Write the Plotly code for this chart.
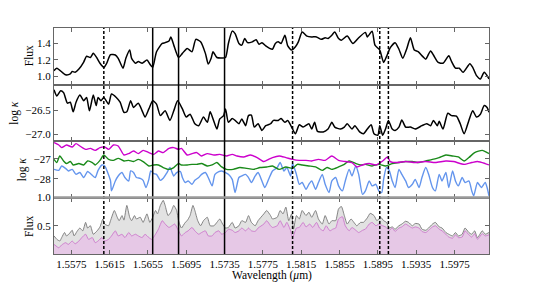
import plotly.graph_objects as go
from plotly.subplots import make_subplots

# ---------------- data ----------------
flux_wl = [1.5557,1.5560,1.5569,1.5574,1.5576,1.5579,1.5583,1.5588,1.5591,1.5595,1.5598,1.5602,1.5605,1.5609,1.5612,1.5616,
           1.5621,1.5624,1.5629,1.5632,1.5636,1.5638,1.5642,1.5645,1.5649,1.5654,1.5657,1.5660,1.5664,1.5670,1.5673,1.5677,
           1.5679,1.5682,1.5687,1.5691,1.5696,1.5701,1.5705,1.5710,1.5715,1.5718,1.5721,1.5723,1.5727,1.5732,1.5736,1.5739,
           1.5743,1.5746,1.5750,1.5753,1.5756,1.5759,1.5764,1.5768,1.5771,1.5774,1.5778,1.5782,1.5785,1.5788,1.5791,1.5794,
           1.5798,1.5801,1.5805,1.5809,1.5812,1.5816,1.5821,1.5826,1.5831,1.5836,1.5840,1.5843,1.5847,1.5850,1.5854,1.5857,
           1.5863,1.5869,1.5875,1.5882,1.5884,1.5889,1.5892,1.5897,1.5901,1.5904,1.5908,1.5913,1.5917,1.5921,1.5925,1.5929,
           1.5933,1.5937,1.5942,1.5945,1.5950,1.5953,1.5958,1.5963,1.5969,1.5972,1.5976,1.5980,1.5984,1.5991,1.5994,1.5998,
           1.6002,1.6006,1.6011]
flux = [1.07,1.10,1.02,1.03,1.06,1.05,1.09,1.175,1.245,1.23,1.28,1.22,1.16,1.11,1.16,1.265,
        1.26,1.22,1.10,1.22,1.32,1.22,1.16,1.18,1.16,1.20,1.15,1.11,1.30,1.40,1.41,1.43,
        1.48,1.38,1.23,1.28,1.34,1.30,1.45,1.42,1.28,1.15,1.22,1.30,1.23,1.225,1.23,1.40,
        1.55,1.52,1.40,1.38,1.46,1.41,1.42,1.445,1.39,1.41,1.37,1.34,1.33,1.40,1.42,1.40,
        1.50,1.37,1.32,1.36,1.42,1.54,1.49,1.48,1.48,1.45,1.47,1.46,1.50,1.54,1.46,1.44,
        1.49,1.40,1.47,1.535,1.48,1.55,1.38,1.32,1.17,1.24,1.35,1.41,1.33,1.22,1.33,1.47,
        1.32,1.30,1.24,1.21,1.31,1.26,1.17,1.16,1.25,1.18,1.10,1.10,1.05,1.155,1.11,1.01,
        0.97,1.05,0.97]

kappa_wl = [1.5557,1.5560,1.5564,1.5567,1.5571,1.5574,1.5577,1.5580,1.5584,1.5588,1.5591,1.5594,1.5598,1.5601,1.5603,1.5606,
            1.5609,1.5614,1.5617,1.5622,1.5626,1.5630,1.5633,1.5637,1.5640,1.5645,1.5649,1.5652,1.5656,1.5660,1.5664,1.5668,
            1.5673,1.5678,1.5682,1.5686,1.5691,1.5695,1.5699,1.5704,1.5708,1.5713,1.5717,1.5720,1.5723,1.5727,1.5730,1.5734,
            1.5736,1.5739,1.5743,1.5746,1.5750,1.5753,1.5757,1.5760,1.5763,1.5766,1.5770,1.5774,1.5778,1.5783,1.5786,1.5791,
            1.5794,1.5798,1.5801,1.5805,1.5809,1.5813,1.5817,1.5823,1.5826,1.5829,1.5832,1.5838,1.5843,1.5847,1.5850,1.5856,
            1.5860,1.5863,1.5868,1.5871,1.5876,1.5880,1.5884,1.5888,1.5891,1.5895,1.5897,1.5900,1.5903,1.5906,1.5910,1.5913,
            1.5917,1.5920,1.5924,1.5929,1.5934,1.5941,1.5946,1.5950,1.5953,1.5957,1.5959,1.5963,1.5968,1.5972,1.5977,1.5981,
            1.5985,1.5990,1.5994,1.5998,1.6002,1.6006,1.6009,1.6011]
log_kappa = [-26.07,-26.20,-26.09,-26.13,-26.35,-26.33,-26.53,-26.33,-26.18,-26.30,-26.23,-26.51,-26.18,-26.40,-26.23,-26.30,
             -26.23,-26.37,-26.16,-26.23,-26.33,-26.54,-26.53,-26.30,-26.44,-26.35,-26.51,-26.64,-26.47,-26.30,-26.37,-26.61,
             -26.51,-26.71,-26.51,-26.30,-26.47,-26.64,-26.58,-26.78,-26.82,-26.64,-26.75,-26.53,-26.68,-26.89,-26.68,-26.61,
             -26.47,-26.75,-26.67,-26.71,-26.78,-26.68,-26.82,-26.61,-26.60,-26.85,-26.78,-26.92,-26.82,-26.78,-26.71,-26.71,
             -26.67,-26.75,-26.71,-26.85,-26.99,-26.80,-26.85,-26.78,-26.89,-26.75,-26.94,-26.95,-26.89,-26.75,-26.85,-26.89,
             -26.85,-26.78,-26.89,-26.82,-26.95,-26.99,-26.89,-26.80,-26.99,-27.02,-26.82,-27.02,-26.89,-26.71,-26.89,-26.92,
             -26.85,-26.70,-26.85,-26.85,-26.89,-26.82,-26.78,-26.82,-26.71,-26.82,-26.73,-26.89,-26.56,-26.61,-26.62,-26.78,
             -26.99,-26.71,-26.51,-26.64,-26.58,-26.40,-26.44,-26.54]

# panel 3: three opacity sources
mag_wl = [1.5557,1.5562,1.5565,1.5570,1.5576,1.5580,1.5584,1.5590,1.5595,1.5600,1.5605,1.5610,1.5614,1.5619,1.5624,1.5630,
          1.5635,1.5640,1.5645,1.5650,1.5656,1.5661,1.5666,1.5671,1.5677,1.5682,1.5687,1.5690,1.5696,1.5701,1.5706,1.5711,
          1.5717,1.5724,1.5730,1.5737,1.5743,1.5748,1.5755,1.5762,1.5769,1.5776,1.5781,1.5785,1.5792,1.5799,1.5806,1.5813,
          1.5820,1.5826,1.5833,1.5840,1.5847,1.5854,1.5861,1.5868,1.5873,1.5879,1.5886,1.5893,1.5900,1.5905,1.5908,1.5915,
          1.5924,1.5934,1.5945,1.5955,1.5966,1.5974,1.5985,1.5993,1.5999,1.6007,1.6011]
mag_k = [-26.18,-26.30,-26.43,-26.30,-26.40,-26.23,-26.35,-26.52,-26.47,-26.57,-26.43,-26.40,-26.52,-26.30,-26.35,-26.80,
         -26.73,-26.60,-26.73,-26.57,-26.68,-26.77,-26.60,-26.68,-26.47,-26.43,-26.52,-26.47,-26.80,-26.73,-26.68,-26.85,
         -26.73,-26.80,-26.77,-26.85,-26.77,-26.85,-26.90,-26.80,-26.93,-27.13,-27.02,-26.93,-26.85,-26.93,-27.02,-27.07,
         -27.07,-27.10,-27.02,-27.07,-26.85,-27.07,-27.13,-27.18,-27.40,-27.30,-27.23,-27.30,-27.10,-26.90,-27.13,-27.18,
         -27.13,-27.18,-27.13,-27.18,-27.10,-27.13,-27.27,-27.18,-27.13,-27.23,-27.30]

grn_wl = [1.5557,1.5560,1.5563,1.5567,1.5570,1.5574,1.5577,1.5583,1.5588,1.5592,1.5597,1.5600,1.5605,1.5609,1.5614,1.5619,
          1.5624,1.5630,1.5635,1.5640,1.5645,1.5650,1.5656,1.5661,1.5666,1.5671,1.5677,1.5682,1.5687,1.5690,1.5696,1.5701,
          1.5706,1.5711,1.5717,1.5722,1.5727,1.5732,1.5737,1.5744,1.5751,1.5758,1.5765,1.5772,1.5779,1.5785,1.5792,1.5799,
          1.5806,1.5811,1.5816,1.5823,1.5830,1.5837,1.5842,1.5847,1.5854,1.5860,1.5865,1.5872,1.5877,1.5882,1.5889,1.5896,
          1.5903,1.5910,1.5917,1.5924,1.5931,1.5938,1.5945,1.5952,1.5959,1.5966,1.5973,1.5979,1.5985,1.5990,1.5996,1.6004,
          1.6009,1.6011]
grn_k = [-27.02,-27.18,-26.85,-27.10,-27.23,-27.13,-27.30,-27.23,-27.30,-27.10,-27.18,-27.30,-27.07,-26.80,-27.02,-27.07,
         -26.97,-27.10,-27.07,-27.13,-27.02,-27.13,-27.35,-27.30,-27.30,-27.43,-27.52,-27.43,-27.23,-27.30,-27.30,-27.27,
         -27.27,-27.23,-27.35,-27.30,-27.18,-27.40,-27.52,-27.52,-27.43,-27.47,-27.52,-27.43,-27.40,-27.35,-27.52,-27.40,
         -27.47,-27.27,-27.30,-27.35,-27.40,-27.57,-27.43,-27.52,-27.40,-27.27,-27.10,-27.23,-27.30,-27.27,-27.35,-27.27,
         -27.35,-27.23,-27.18,-27.13,-27.13,-27.18,-27.10,-27.02,-26.93,-26.80,-26.85,-26.90,-27.10,-26.93,-26.68,-26.57,
         -26.68,-26.73]

blu_wl = [1.5557,1.5562,1.5565,1.5569,1.5572,1.5576,1.5580,1.5584,1.5588,1.5592,1.5595,1.5600,1.5603,1.5607,1.5610,1.5613,
          1.5616,1.5617,1.5621,1.5624,1.5628,1.5631,1.5635,1.5637,1.5640,1.5643,1.5647,1.5650,1.5653,1.5656,1.5658,1.5661,
          1.5664,1.5668,1.5671,1.5675,1.5678,1.5682,1.5685,1.5689,1.5691,1.5694,1.5697,1.5701,1.5704,1.5708,1.5711,1.5715,
          1.5718,1.5722,1.5725,1.5729,1.5732,1.5736,1.5739,1.5743,1.5746,1.5750,1.5753,1.5757,1.5760,1.5763,1.5767,1.5770,
          1.5774,1.5777,1.5781,1.5785,1.5790,1.5793,1.5797,1.5800,1.5804,1.5806,1.5810,1.5813,1.5816,1.5820,1.5823,1.5826,
          1.5830,1.5833,1.5837,1.5840,1.5844,1.5847,1.5851,1.5854,1.5858,1.5861,1.5865,1.5868,1.5872,1.5875,1.5879,1.5882,
          1.5886,1.5889,1.5893,1.5896,1.5899,1.5901,1.5904,1.5907,1.5910,1.5913,1.5917,1.5920,1.5924,1.5927,1.5931,1.5934,
          1.5938,1.5941,1.5945,1.5948,1.5952,1.5955,1.5959,1.5962,1.5966,1.5969,1.5973,1.5976,1.5979,1.5983,1.5986,1.5990,
          1.5993,1.5995,1.5999,1.6003,1.6007,1.6009,1.6011]
blu_k = [-27.52,-27.57,-27.35,-27.47,-27.60,-27.52,-27.77,-27.68,-27.93,-27.63,-27.73,-27.93,-27.57,-27.30,-27.35,-27.68,
         -28.10,-28.60,-28.10,-27.85,-27.68,-27.93,-28.10,-27.60,-27.68,-27.93,-27.97,-28.07,-28.43,-28.02,-27.60,-27.73,
         -27.77,-28.07,-27.97,-27.68,-27.43,-27.85,-27.68,-27.63,-27.93,-28.18,-28.10,-28.27,-28.07,-27.93,-27.77,-27.68,
         -27.93,-28.35,-27.77,-27.63,-27.60,-27.68,-27.77,-28.02,-28.68,-27.93,-27.85,-27.77,-27.93,-28.18,-27.85,-27.68,
         -28.10,-28.43,-28.02,-27.60,-27.43,-27.18,-27.60,-27.43,-27.85,-27.23,-27.77,-28.27,-28.18,-28.52,-28.27,-28.10,
         -28.52,-28.18,-27.77,-28.27,-28.68,-28.10,-27.93,-28.35,-28.60,-28.10,-27.52,-27.85,-27.35,-27.77,-28.77,-28.60,
         -28.10,-28.35,-28.27,-28.60,-28.68,-28.02,-27.43,-27.60,-28.10,-28.43,-27.52,-27.77,-28.10,-28.43,-28.27,-28.02,
         -28.43,-27.93,-27.43,-27.77,-28.43,-28.60,-27.77,-28.10,-27.68,-28.43,-27.60,-28.10,-28.35,-27.93,-28.18,-28.10,
         -28.60,-28.85,-28.18,-28.43,-28.18,-28.43,-28.85]

# panel 4: two flux curves
gry_wl = [1.5557,1.5560,1.5563,1.5565,1.5568,1.5570,1.5573,1.5576,1.5578,1.5581,1.5584,1.5587,1.5590,1.5592,1.5595,1.5598,
          1.5602,1.5605,1.5608,1.5610,1.5614,1.5616,1.5620,1.5623,1.5625,1.5628,1.5630,1.5633,1.5636,1.5638,1.5641,1.5643,
          1.5647,1.5650,1.5654,1.5657,1.5660,1.5663,1.5665,1.5668,1.5671,1.5673,1.5676,1.5679,1.5682,1.5685,1.5687,1.5690,
          1.5694,1.5696,1.5699,1.5702,1.5704,1.5707,1.5710,1.5713,1.5717,1.5720,1.5724,1.5727,1.5730,1.5733,1.5736,1.5739,
          1.5743,1.5746,1.5750,1.5753,1.5757,1.5760,1.5763,1.5767,1.5770,1.5776,1.5779,1.5783,1.5785,1.5790,1.5793,1.5796,
          1.5799,1.5802,1.5805,1.5807,1.5810,1.5813,1.5816,1.5820,1.5823,1.5826,1.5830,1.5833,1.5837,1.5840,1.5844,1.5847,
          1.5851,1.5854,1.5857,1.5860,1.5863,1.5867,1.5870,1.5873,1.5877,1.5880,1.5884,1.5887,1.5891,1.5894,1.5898,1.5901,
          1.5904,1.5907,1.5910,1.5913,1.5917,1.5920,1.5924,1.5927,1.5931,1.5934,1.5938,1.5941,1.5945,1.5948,1.5952,1.5955,
          1.5959,1.5962,1.5966,1.5969,1.5973,1.5976,1.5979,1.5983,1.5986,1.5990,1.5993,1.5996,1.5999,1.6004,1.6007,1.6011]
gry_f = [0.32,0.26,0.23,0.29,0.38,0.32,0.36,0.42,0.32,0.40,0.46,0.41,0.56,0.46,0.50,0.35,
         0.41,0.48,0.62,0.53,0.50,0.59,0.77,0.65,0.59,0.68,0.60,0.86,0.65,0.59,0.68,0.62,
         0.65,0.56,0.71,0.56,0.65,0.77,0.71,0.86,0.95,0.86,0.68,0.74,0.86,0.77,0.59,0.46,
         0.56,0.59,0.68,0.86,0.77,0.59,0.50,0.59,0.65,0.50,0.50,0.56,0.62,0.53,0.46,0.47,
         0.56,0.46,0.50,0.59,0.56,0.68,0.56,0.50,0.59,0.71,0.77,0.68,0.62,0.65,0.77,0.71,
         0.83,0.59,0.71,0.44,0.68,0.62,0.77,0.68,0.74,0.65,0.77,0.62,0.53,0.68,0.53,0.59,
         0.59,0.80,0.84,0.68,0.53,0.62,0.56,0.50,0.56,0.56,0.64,0.72,0.68,0.59,0.65,0.59,
         0.56,0.46,0.48,0.44,0.50,0.53,0.58,0.56,0.50,0.54,0.53,0.44,0.42,0.46,0.53,0.56,
         0.48,0.46,0.38,0.35,0.32,0.38,0.32,0.35,0.46,0.38,0.35,0.41,0.29,0.41,0.35,0.38]

pnk_wl = [1.5557,1.5562,1.5565,1.5569,1.5572,1.5576,1.5579,1.5583,1.5586,1.5590,1.5593,1.5597,1.5600,1.5603,1.5607,1.5610,
          1.5614,1.5617,1.5621,1.5624,1.5628,1.5631,1.5635,1.5638,1.5642,1.5645,1.5649,1.5652,1.5656,1.5659,1.5663,1.5666,
          1.5670,1.5673,1.5677,1.5680,1.5683,1.5687,1.5690,1.5694,1.5697,1.5701,1.5704,1.5708,1.5711,1.5715,1.5718,1.5722,
          1.5725,1.5729,1.5732,1.5736,1.5739,1.5743,1.5746,1.5750,1.5753,1.5757,1.5760,1.5763,1.5767,1.5770,1.5776,1.5779,
          1.5783,1.5785,1.5790,1.5793,1.5797,1.5800,1.5804,1.5806,1.5810,1.5813,1.5817,1.5820,1.5824,1.5827,1.5831,1.5834,
          1.5838,1.5841,1.5845,1.5848,1.5851,1.5854,1.5858,1.5861,1.5865,1.5868,1.5872,1.5875,1.5879,1.5882,1.5886,1.5889,
          1.5893,1.5896,1.5900,1.5903,1.5907,1.5910,1.5913,1.5917,1.5920,1.5924,1.5927,1.5931,1.5934,1.5938,1.5941,1.5945,
          1.5948,1.5952,1.5955,1.5959,1.5962,1.5966,1.5969,1.5973,1.5976,1.5979,1.5983,1.5986,1.5990,1.5993,1.5996,1.5999,
          1.6004,1.6007,1.6011]
pnk_f = [0.17,0.11,0.16,0.20,0.17,0.23,0.18,0.23,0.29,0.35,0.26,0.29,0.20,0.23,0.29,0.23,
         0.26,0.32,0.41,0.32,0.35,0.29,0.38,0.32,0.35,0.32,0.29,0.35,0.29,0.26,0.35,0.44,
         0.59,0.53,0.47,0.50,0.53,0.41,0.32,0.38,0.41,0.47,0.41,0.35,0.38,0.41,0.32,0.32,
         0.38,0.41,0.35,0.38,0.44,0.42,0.38,0.41,0.46,0.41,0.46,0.41,0.40,0.46,0.53,0.59,
         0.50,0.47,0.50,0.59,0.47,0.56,0.41,0.29,0.46,0.47,0.56,0.48,0.53,0.47,0.56,0.46,
         0.41,0.50,0.41,0.44,0.46,0.62,0.66,0.50,0.41,0.47,0.42,0.38,0.42,0.44,0.53,0.56,
         0.50,0.53,0.50,0.48,0.42,0.46,0.40,0.46,0.48,0.53,0.50,0.46,0.48,0.46,0.40,0.38,
         0.42,0.48,0.50,0.44,0.41,0.35,0.30,0.28,0.34,0.29,0.30,0.41,0.34,0.30,0.36,0.26,
         0.36,0.32,0.34]

solid_lines = [1.5660, 1.5687, 1.5735]
dashed_lines = [1.5609, 1.5806, 1.5897, 1.5906]

x_ticks = [1.5575, 1.5615, 1.5655, 1.5695, 1.5735, 1.5775, 1.5815, 1.5855, 1.5895, 1.5935, 1.5975]
x_range = [1.5557, 1.6011]

# ---------------- figure ----------------
FONT = "Liberation Serif"
AX = "#666666"

fig = make_subplots(rows=4, cols=1, shared_xaxes=True, vertical_spacing=0)

fig.add_trace(go.Scatter(x=flux_wl, y=flux, mode="lines",
                         line=dict(color="black", width=1.5, shape="spline", smoothing=0.6)), row=1, col=1)
fig.add_trace(go.Scatter(x=kappa_wl, y=log_kappa, mode="lines",
                         line=dict(color="black", width=1.5, shape="spline", smoothing=0.6)), row=2, col=1)
fig.add_trace(go.Scatter(x=blu_wl, y=blu_k, mode="lines",
                         line=dict(color="#6495ED", width=1.4, shape="spline", smoothing=0.6)), row=3, col=1)
fig.add_trace(go.Scatter(x=grn_wl, y=grn_k, mode="lines",
                         line=dict(color="#1a8a1a", width=1.4, shape="spline", smoothing=0.6)), row=3, col=1)
fig.add_trace(go.Scatter(x=mag_wl, y=mag_k, mode="lines",
                         line=dict(color="#cc00cc", width=1.4, shape="spline", smoothing=0.6)), row=3, col=1)
fig.add_trace(go.Scatter(x=gry_wl, y=gry_f, mode="lines", fill="tozeroy", fillcolor="#e2e2e2",
                         line=dict(color="#777777", width=0.9, shape="spline", smoothing=0.5)), row=4, col=1)
fig.add_trace(go.Scatter(x=pnk_wl, y=pnk_f, mode="lines", fill="tozeroy", fillcolor="#e6c8e6",
                         line=dict(color="#cc77cc", width=0.9, shape="spline", smoothing=0.5)), row=4, col=1)

fig.update_xaxes(range=x_range, tickvals=x_ticks, ticktext=[f"{v:.4f}" for v in x_ticks],
                 ticks="inside", ticklen=4, tickcolor=AX, showline=True, linecolor=AX, linewidth=1,
                 mirror="ticks", showgrid=False, zeroline=False)
fig.update_xaxes(tickfont=dict(family=FONT, size=11, color="black"), row=4, col=1)

yax = dict(ticks="inside", ticklen=4, tickcolor=AX, showline=True, linecolor=AX, linewidth=1,
           mirror="ticks", showgrid=False, zeroline=False,
           tickfont=dict(family=FONT, size=11, color="black"))
fig.update_yaxes(range=[0.902, 1.588], tickvals=[1.0, 1.2, 1.4], ticktext=["1.0", "1.2", "1.4"], row=1, col=1, **yax)
fig.update_yaxes(range=[-27.14, -25.96], tickvals=[-26.5, -27.0], ticktext=["\u221226.5", "\u221227.0"], row=2, col=1, **yax)
fig.update_yaxes(range=[-28.93, -26.10], tickvals=[-27, -28], ticktext=["\u221227", "\u221228"], row=3, col=1, **yax)
fig.update_yaxes(range=[0.0, 1.0], tickvals=[0.5, 1.0], ticktext=["0.5", "1.0"], row=4, col=1, **yax)

shapes = []
for w in solid_lines:
    shapes.append(dict(type="line", xref="x", yref="paper", x0=w, x1=w, y0=0, y1=1,
                       line=dict(color="black", width=1.5)))
for w in dashed_lines:
    shapes.append(dict(type="line", xref="x", yref="paper", x0=w, x1=w, y0=0, y1=1,
                       line=dict(color="black", width=1.5, dash="3px,2px")))
# heavier grey separator between the opacity panel and the bottom flux panel
shapes.append(dict(type="line", xref="paper", yref="paper", x0=0, x1=1, y0=0.25, y1=0.25,
                   line=dict(color="#9a9a9a", width=2.5)))
fig.update_layout(shapes=shapes)

PW = 435.0
PH = 226.0
def px_x(px):
    return (px - 54) / PW

ann = [
    dict(text="Flux", x=px_x(29), y=0.875, textangle=-90),
    dict(text="log <i>\u03ba</i>", x=px_x(15), y=0.625, textangle=-90),
    dict(text="log <i>\u03ba</i>", x=px_x(22), y=0.375, textangle=-90),
    dict(text="Flux", x=px_x(29), y=0.12, textangle=-90),
    dict(text="Wavelength (<i>\u03bc</i>m)", x=0.5, y=(254 - 275.5) / PH, textangle=0),
]
annotations = []
for a in ann:
    annotations.append(dict(text=a["text"], x=a["x"], y=a["y"], xref="paper", yref="paper",
                            textangle=a["textangle"], showarrow=False, xanchor="center", yanchor="middle",
                            font=dict(family=FONT, size=11.5, color="black")))
fig.update_layout(annotations=annotations)

fig.update_layout(width=544, height=283, margin=dict(l=54, r=55, t=28, b=29),
                  paper_bgcolor="white", plot_bgcolor="white", showlegend=False,
                  font=dict(family=FONT, size=11, color="black"))

fig.write_html("out.html", config={"displayModeBar": False},
               post_script="document.body.style.margin='0';document.body.style.overflow='hidden';")
